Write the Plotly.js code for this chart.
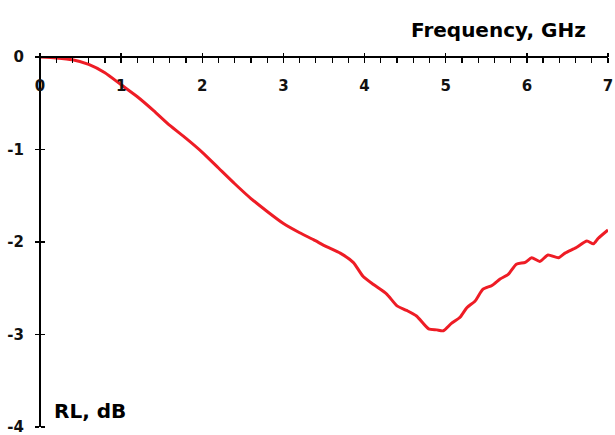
<!DOCTYPE html>
<html>
<head>
<meta charset="utf-8">
<script src="https://cdn.plot.ly/plotly-3.0.1.min.js"></script>
<style>html,body{margin:0;padding:0;background:#fff;}#chart{width:615px;height:435px;}</style>
</head>
<body>
<div id="chart"></div>
<script>
// Frequency (GHz)
const freq = [0, 0.2, 0.4, 0.6, 0.8, 1.0, 1.2, 1.4, 1.6, 1.8, 2.0, 2.2, 2.4, 2.6, 2.8, 3.0, 3.2, 3.37, 3.53, 3.70, 3.86, 3.98, 4.11, 4.27, 4.40, 4.52, 4.64, 4.79, 4.89, 4.97, 5.07, 5.18, 5.26, 5.36, 5.46, 5.57, 5.67, 5.77, 5.87, 5.98, 6.06, 6.16, 6.26, 6.39, 6.47, 6.61, 6.74, 6.82, 6.88, 7.0];
// Return loss (dB)
const rl = [0, -0.01, -0.03, -0.08, -0.17, -0.30, -0.43, -0.58, -0.74, -0.88, -1.03, -1.20, -1.37, -1.53, -1.67, -1.80, -1.90, -1.975, -2.05, -2.12, -2.22, -2.37, -2.46, -2.56, -2.69, -2.74, -2.80, -2.94, -2.95, -2.96, -2.88, -2.81, -2.71, -2.64, -2.51, -2.47, -2.40, -2.35, -2.24, -2.22, -2.17, -2.21, -2.14, -2.17, -2.12, -2.06, -1.99, -2.02, -1.96, -1.87];
const xTicks = [0, 1, 2, 3, 4, 5, 6, 7];
const yTicks = [0, -1, -2, -3, -4];
const yTickText = ["0", "-1", "-2", "-3", "-4"];
const xTitle = "Frequency, GHz";
const yTitle = "RL, dB";

const tickFont = {family: "DejaVu Sans", size: 15, color: "#111", weight: "bold"};
const titleFont = {family: "DejaVu Sans", size: 20, color: "#000", weight: "bold"};

const traces = [
  {x: freq, y: rl, type: "scatter", mode: "lines", line: {color: "#ee1c25", width: 3, shape: "spline", smoothing: 0.6}, hoverinfo: "skip"},
  {x: freq, y: rl, xaxis: "x2", yaxis: "y2", type: "scatter", mode: "lines", line: {width: 0}, opacity: 0, hoverinfo: "skip"}
];

const layout = {
  width: 615, height: 435,
  margin: {l: 40, r: 7, t: 57, b: 8},
  paper_bgcolor: "#fff", plot_bgcolor: "#fff",
  showlegend: false,
  xaxis: {
    range: [0, 7], anchor: "free", position: 1, side: "bottom",
    showline: true, linewidth: 2, linecolor: "#000",
    showgrid: false, zeroline: false,
    tickvals: xTicks, ticks: "outside", ticklen: 5, tickwidth: 1.5, tickcolor: "#000",
    minor: {dtick: 0.2, ticks: "outside", ticklen: 5, tickwidth: 1.2, tickcolor: "#000", showgrid: false},
    tickfont: tickFont, ticklabelstandoff: 10, ticklabeloverflow: "allow"
  },
  xaxis2: {
    matches: "x", overlaying: "x", anchor: "free", position: 1, side: "top",
    showline: false, showgrid: false, zeroline: false, showticklabels: false,
    tickvals: xTicks, ticks: "outside", ticklen: 4, tickwidth: 1.5, tickcolor: "#000"
  },
  yaxis: {
    range: [-4, 0], anchor: "free", position: 0, side: "left",
    showline: true, linewidth: 2, linecolor: "#000",
    showgrid: false, zeroline: false,
    tickvals: yTicks, ticktext: yTickText, ticks: "outside", ticklen: 4, tickwidth: 1.5, tickcolor: "#000",
    tickfont: tickFont, ticklabelstandoff: 8, ticklabeloverflow: "allow"
  },
  yaxis2: {
    matches: "y", overlaying: "y", anchor: "free", position: 0, side: "right",
    showline: false, showgrid: false, zeroline: false, showticklabels: false,
    tickvals: yTicks, ticks: "outside", ticklen: 4, tickwidth: 1.5, tickcolor: "#000"
  },
  annotations: [
    {text: xTitle, xref: "paper", yref: "paper", x: 0.965, y: 1.072, xanchor: "right", yanchor: "middle", showarrow: false, font: titleFont},
    {text: yTitle, xref: "paper", yref: "paper", x: 0.021, y: 0.044, xanchor: "left", yanchor: "middle", showarrow: false, font: titleFont}
  ]
};

Plotly.newPlot("chart", traces, layout, {displayModeBar: false, staticPlot: true});
</script>
</body>
</html>
